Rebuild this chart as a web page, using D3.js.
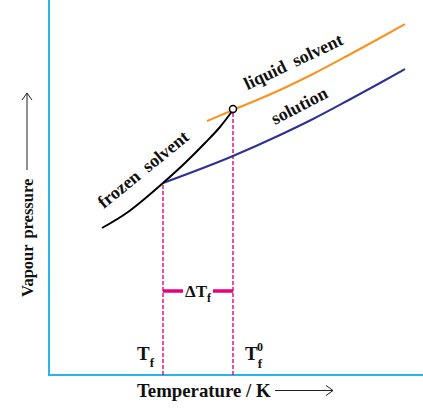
<!DOCTYPE html>
<html><head><meta charset="utf-8">
<script src="https://cdn.jsdelivr.net/npm/d3@7/dist/d3.min.js"></script>
<style>
html,body{margin:0;padding:0;background:#fff;}
svg text{font-family:"Liberation Serif","Times New Roman",serif;font-weight:bold;fill:#111;}
</style></head>
<body>
<svg id="c" width="423" height="415"></svg>
<script>
// Data (arbitrary temperature / pressure units)
const frozenT = [53, 79, 96, 114, 136, 156, 171, 184];
const frozenP = [147, 163, 176.5, 192, 212, 232, 248, 265];
const liquidT = [158, 184, 231, 264, 298, 331, 356];
const liquidP = [254, 265, 285, 301, 319, 337, 351];
const solutionT = [114, 184, 231, 264, 298, 331, 356];
const solutionP = [192, 219, 240, 256, 274, 292, 306];
const Tf = 114, Tf0 = 184, tripleP = 266, bracketP = 84;

const svg = d3.select("#c");
const x = d3.scaleLinear().domain([0, 374]).range([49, 423]);
const y = d3.scaleLinear().domain([0, 375]).range([375, 0]);

const line = d3.line().x(d => x(d[0])).y(d => y(d[1])).curve(d3.curveMonotoneX);
const zip = (a, b) => a.map((v, i) => [v, b[i]]);

// axes
const axisColor = "#29b3ea";
svg.append("path").attr("d", `M${x(0)},${y(375)}V${y(0)}H${x(374)}`)
  .attr("fill", "none").attr("stroke", axisColor).attr("stroke-width", 2);

// dashed verticals
const magenta = "#e6007e";
svg.append("line").attr("x1", x(Tf)).attr("x2", x(Tf)).attr("y1", y(0)).attr("y2", y(frozenP[3]))
  .attr("stroke", magenta).attr("stroke-width", 1.4).attr("stroke-dasharray", "4,2");
svg.append("line").attr("x1", x(Tf0)).attr("x2", x(Tf0)).attr("y1", y(0)).attr("y2", y(tripleP) + 3.5)
  .attr("stroke", magenta).attr("stroke-width", 1.4).attr("stroke-dasharray", "4,2");

// bracket
svg.append("line").attr("x1", x(Tf)).attr("x2", x(Tf) + 20).attr("y1", y(bracketP)).attr("y2", y(bracketP))
  .attr("stroke", magenta).attr("stroke-width", 3.5);
svg.append("line").attr("x1", x(Tf0) - 20).attr("x2", x(Tf0)).attr("y1", y(bracketP)).attr("y2", y(bracketP))
  .attr("stroke", magenta).attr("stroke-width", 3.5);

// curves
svg.append("path").attr("d", line(zip(liquidT, liquidP))).attr("fill", "none").attr("stroke", "#f7931e").attr("stroke-width", 2);
svg.append("path").attr("d", line(zip(solutionT, solutionP))).attr("fill", "none").attr("stroke", "#2e3192").attr("stroke-width", 2);
svg.append("path").attr("d", line(zip(frozenT, frozenP))).attr("fill", "none").attr("stroke", "#000").attr("stroke-width", 2);
svg.append("circle").attr("cx", x(Tf0)).attr("cy", y(tripleP)).attr("r", 3.5)
  .attr("fill", "#fff").attr("stroke", "#000").attr("stroke-width", 1.5);

// rotated curve labels
function rlabel(txt, cx, cy, ang) {
  svg.append("text").attr("transform", `translate(${cx},${cy}) rotate(${ang})`)
    .attr("text-anchor", "middle").attr("font-size", 18).attr("word-spacing", 4).text(txt);
}
rlabel("frozen solvent", 147, 174, -39);
rlabel("liquid solvent", 296, 67, -25.5);
rlabel("solution", 302, 111, -27.5);

// ΔTf
const dt = svg.append("text").attr("x", 185).attr("y", 297).attr("font-size", 17);
dt.append("tspan").text("ΔT");
dt.append("tspan").attr("font-size", 12).attr("dy", 5).text("f");

// Tf labels
const t1 = svg.append("text").attr("x", 137).attr("y", 360).attr("font-size", 19);
t1.append("tspan").text("T");
t1.append("tspan").attr("font-size", 13).attr("dy", 7).text("f");
const t2 = svg.append("text").attr("x", 245).attr("y", 360).attr("font-size", 19);
t2.append("tspan").text("T");
t2.append("tspan").attr("font-size", 13).attr("dy", 8).text("f");
t2.append("tspan").attr("font-size", 12).attr("dx", -5).attr("dy", -17).text("0");

// axis titles
svg.append("text").attr("x", 137).attr("y", 397).attr("font-size", 18.8).text("Temperature / K");
svg.append("path").attr("d", "M275,390.5H333M326,385.5L333,390.5L326,395.5")
  .attr("fill", "none").attr("stroke", "#222").attr("stroke-width", 1);
svg.append("text").attr("transform", "translate(33,297) rotate(-90)").attr("font-size", 16.5).attr("word-spacing", 2).text("Vapour pressure");
svg.append("path").attr("d", "M27,170V93M22,100L27,93L32,100")
  .attr("fill", "none").attr("stroke", "#222").attr("stroke-width", 1);
</script>
</body></html>
